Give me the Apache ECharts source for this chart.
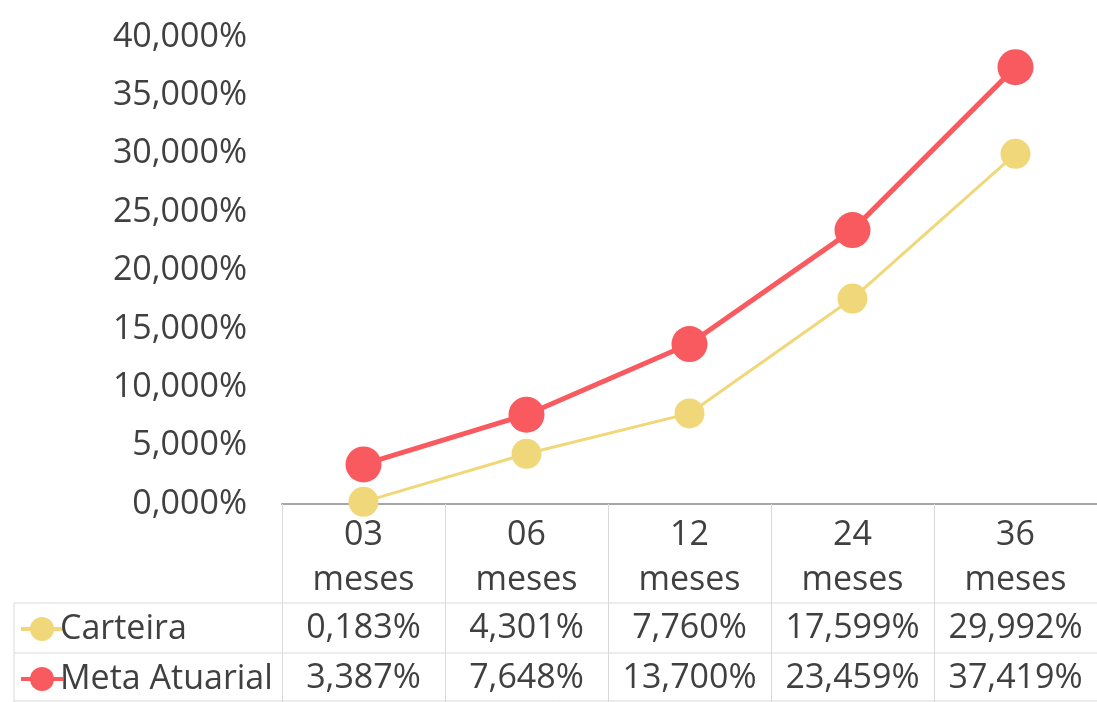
<!DOCTYPE html>
<html>
<head>
<meta charset="utf-8">
<script src="https://cdn.jsdelivr.net/npm/echarts@6/dist/echarts.min.js"></script>
<style>
  html, body { margin: 0; padding: 0; background: #fff; }
  #box { width: 1097px; height: 702px; }
</style>
</head>
<body>
<div id="box"></div>
<script>
// dados do gráfico
const categorias = ['03\nmeses', '06\nmeses', '12\nmeses', '24\nmeses', '36\nmeses'];
const carteira = [0.183, 4.301, 7.760, 17.599, 29.992];
const metaAtuarial = [3.387, 7.648, 13.700, 23.459, 37.419];
const yTicks = { min: 0, max: 40, interval: 5 };

const fonte = '"Open Sans", "Noto Sans", sans-serif';
const corTexto = '#404040';
const corGrade = '#d9d9d9';
const tam = 34;
const fmt = v => v.toFixed(3).replace('.', ',') + '%';

const myChart = echarts.init(document.getElementById('box'));

// uma legenda por linha da tabela
const legenda = (nome, top) => ({
  orient: 'horizontal',
  left: 14,
  top: top,
  itemWidth: 42,
  itemHeight: 30,
  lineStyle: { width: 4 },
  textStyle: { fontSize: tam, color: corTexto, fontFamily: fonte, padding: [0, 0, 0, -8] },
  data: [nome]
});

const option = {
  backgroundColor: '#fff',
  textStyle: { fontFamily: fonte },
  grid: { left: 282, right: -5, top: 37, bottom: 198 },
  legend: [legenda('Carteira', 607), legenda('Meta Atuarial', 657)],
  xAxis: [
    {
      type: 'category',
      data: categorias,
      boundaryGap: true,
      axisLine: { show: true, lineStyle: { color: '#a6a6a6', width: 2 } },
      axisTick: { show: true, length: 198, lineStyle: { color: corGrade, width: 1 } },
      axisLabel: { fontSize: tam, color: corTexto, lineHeight: 45, margin: 9, interval: 0, fontFamily: fonte }
    },
    {
      type: 'category',
      position: 'bottom',
      offset: 124,
      data: carteira.map(fmt),
      axisLine: { show: false },
      axisTick: { show: false },
      axisLabel: { fontSize: tam, color: corTexto, margin: 0, interval: 0, verticalAlign: 'middle', fontFamily: fonte }
    },
    {
      type: 'category',
      position: 'bottom',
      offset: 174,
      data: metaAtuarial.map(fmt),
      axisLine: { show: false },
      axisTick: { show: false },
      axisLabel: { fontSize: tam, color: corTexto, margin: 0, interval: 0, verticalAlign: 'middle', fontFamily: fonte }
    }
  ],
  yAxis: {
    type: 'value',
    min: yTicks.min,
    max: yTicks.max,
    interval: yTicks.interval,
    axisLine: { show: false },
    axisTick: { show: false },
    splitLine: { show: false },
    axisLabel: { fontSize: tam, color: corTexto, margin: 35, formatter: fmt, fontFamily: fonte }
  },
  graphic: [
    { type: 'line', shape: { x1: 14, y1: 603, x2: 1097, y2: 603 }, style: { stroke: corGrade, lineWidth: 1 } },
    { type: 'line', shape: { x1: 14, y1: 653, x2: 1097, y2: 653 }, style: { stroke: corGrade, lineWidth: 1 } },
    { type: 'line', shape: { x1: 14, y1: 701, x2: 1097, y2: 701 }, style: { stroke: corGrade, lineWidth: 1 } },
    { type: 'line', shape: { x1: 14, y1: 603, x2: 14, y2: 702 }, style: { stroke: corGrade, lineWidth: 1 } }
  ],
  series: [
    {
      name: 'Carteira',
      type: 'line',
      data: carteira,
      color: '#f0d87a',
      symbol: 'circle',
      symbolSize: 30,
      lineStyle: { width: 3 },
      z: 2
    },
    {
      name: 'Meta Atuarial',
      type: 'line',
      data: metaAtuarial,
      color: '#f95a5f',
      symbol: 'circle',
      symbolSize: 36,
      lineStyle: { width: 5 },
      z: 3
    }
  ]
};
myChart.setOption(option);
window.onresize = function () {
  myChart.resize();
};
</script>
</body>
</html>
